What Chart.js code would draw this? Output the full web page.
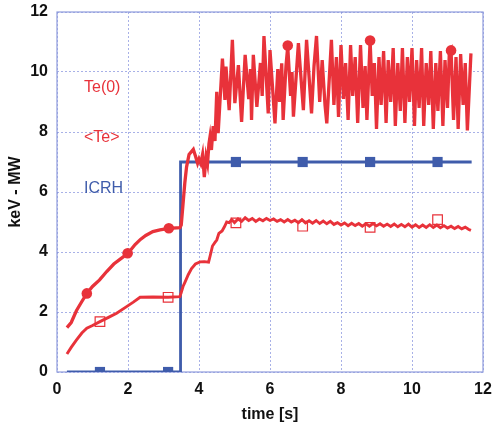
<!DOCTYPE html>
<html>
<head>
<meta charset="utf-8">
<script src="https://cdn.jsdelivr.net/npm/chart.js@4.4.1/dist/chart.umd.min.js"></script>
<style>
  html, body { margin: 0; padding: 0; background: #fff; }
  #wrap { width: 492px; height: 427px; position: relative; }
</style>
</head>
<body>
<div id="wrap"><canvas id="c"></canvas></div>
<script>
// ---------- data ----------
const seriesLabels = ['Te(0)', '<Te>', 'ICRH'];
const xTicks = [0, 2, 4, 6, 8, 10, 12];
const yTicks = [0, 2, 4, 6, 8, 10, 12];

const te0Time = [0.28,0.40,0.55,0.70,0.84,1.00,1.20,1.40,1.60,1.80,2.00,2.20,2.35,2.50,2.70,2.90,3.15,3.46,
  3.50,3.55,3.60,3.65,3.72,3.84,3.90,3.96,4.00,4.05,4.10,4.15,4.20,4.24,4.28,4.31,4.35,4.40,4.45,4.50,4.54,
  4.66,4.73,4.76,4.85,4.94,5.01,5.11,5.20,5.30,5.40,5.45,5.48,5.53,5.63,5.73,5.78,5.83,5.95,6.00,6.14,6.22,
  6.27,6.33,6.37,6.45,6.50,6.58,6.62,6.66,6.80,6.94,7.03,7.17,7.24,7.31,7.40,7.47,7.55,7.60,7.73,7.80,7.87,
  7.93,8.00,8.07,8.13,8.20,8.27,8.33,8.40,8.47,8.55,8.62,8.68,8.73,8.82,8.88,8.94,9.00,9.07,9.13,9.20,9.27,
  9.33,9.40,9.47,9.53,9.60,9.67,9.73,9.80,9.87,9.93,10.00,10.07,10.13,10.20,10.27,10.33,10.40,10.47,10.53,
  10.60,10.67,10.73,10.80,10.87,10.93,11.00,11.05,11.10,11.17,11.24,11.30,11.37,11.44,11.50,11.56,11.66];
const te0Val = [1.48,1.65,2.05,2.35,2.62,2.85,3.07,3.35,3.60,3.78,3.96,4.25,4.42,4.55,4.68,4.74,4.79,4.81,
  4.90,5.60,6.30,6.84,7.25,7.42,7.20,6.96,7.10,6.95,7.25,6.50,7.18,6.95,7.60,7.84,7.40,8.20,7.70,9.34,7.96,
  10.45,9.07,10.18,8.73,11.07,8.96,10.23,8.34,10.57,9.10,10.10,8.40,10.57,8.84,10.30,9.20,11.20,8.62,10.73,8.29,10.10,
  9.00,10.29,8.40,10.20,10.85,9.20,10.00,8.51,10.96,8.73,11.07,8.62,10.20,11.20,9.00,10.40,8.90,8.29,11.07,8.90,10.50,
  8.50,10.90,9.10,10.30,8.40,10.90,9.20,10.50,8.30,10.90,8.80,10.20,8.40,11.05,9.20,10.30,8.10,10.50,8.90,10.70,8.30,
  10.40,9.00,10.80,8.20,10.30,8.70,10.80,8.30,10.50,9.00,10.80,8.20,10.40,8.80,10.80,8.20,10.30,8.90,10.70,
  8.10,10.30,8.70,10.70,8.20,10.40,8.80,10.60,10.72,8.40,10.50,8.10,10.60,8.90,10.30,8.05,10.62];

const teAvgTime = [0.28,0.40,0.55,0.70,0.84,1.00,1.21,1.45,1.68,1.96,2.15,2.34,2.70,3.13,3.46,
  3.50,3.55,3.60,3.70,3.79,3.90,4.03,4.15,4.27,4.32,4.38,4.45,4.50,4.56,4.65,4.72,4.78,4.85,4.92,
  5.00,5.10,5.20,5.30,5.40,5.50,5.60,5.70,5.80,5.90,6.00,6.10,6.20,6.30,6.40,6.50,6.60,6.70,6.80,6.90,
  7.00,7.10,7.20,7.30,7.40,7.50,7.60,7.70,7.80,7.90,8.00,8.10,8.20,8.30,8.40,8.50,8.60,8.70,8.80,8.90,
  9.00,9.10,9.20,9.30,9.40,9.50,9.60,9.70,9.80,9.90,10.00,10.10,10.20,10.30,10.40,10.50,10.60,10.70,10.80,10.90,
  11.00,11.10,11.20,11.30,11.40,11.50,11.60,11.66];
const teAvgVal = [0.60,0.82,1.07,1.30,1.46,1.55,1.68,1.82,1.96,2.18,2.33,2.49,2.50,2.49,2.51,
  2.65,2.85,2.98,3.25,3.45,3.60,3.67,3.68,3.66,3.90,4.20,4.32,4.40,4.62,4.70,4.85,5.00,4.98,5.08,
  4.98,5.10,5.02,5.14,5.05,5.12,5.02,5.10,5.04,5.12,5.05,5.10,5.02,5.08,5.00,5.08,5.00,5.06,4.98,5.08,
  4.97,5.04,4.96,5.05,4.95,5.03,4.94,5.02,4.92,4.98,4.90,4.97,4.88,4.96,4.88,4.95,4.86,4.94,4.86,4.95,
  4.87,4.94,4.86,4.93,4.85,4.93,4.84,4.92,4.84,4.93,4.83,4.91,4.82,4.90,4.82,4.91,4.82,4.90,4.81,4.88,
  4.80,4.86,4.78,4.85,4.77,4.83,4.75,4.72];

const icrhTime = [0.28, 3.48, 3.48, 11.68];
const icrhVal  = [0, 0, 7, 7];

const te0MarkTime = [0.84, 1.99, 3.15, 6.50, 8.82, 11.10];
const te0MarkVal  = [2.62, 3.96, 4.79, 10.88, 11.05, 10.72];
const teAvgMarkTime = [1.21, 3.13, 5.04, 6.92, 8.82, 10.72];
const teAvgMarkVal  = [1.68, 2.49, 4.97, 4.86, 4.82, 5.08];
const icrhMarkTime = [1.21, 3.13, 5.04, 6.92, 8.82, 10.72];
const icrhMarkVal  = [0, 0, 7, 7, 7, 7];

// ---------- styling ----------
const RED = '#e8323a';
const BLUE = '#3f5cab';
const GRID = 'rgba(110,125,215,0.6)';
const BORDER = '#8f9cdc';
const FONT = "'Liberation Sans', Arial, Helvetica, sans-serif";

const pts = (t, v) => t.map((x, i) => ({ x: x, y: v[i] }));

const lineDs = (label, data, color, w) => ({
  label, data, borderColor: color, backgroundColor: color, borderWidth: w,
  pointRadius: 0, tension: 0, fill: false, showLine: true
});
const markDs = (label, data, style, radius, fillColor, color, bw) => ({
  label, data, showLine: false, pointStyle: style, pointRadius: radius,
  pointBackgroundColor: fillColor, pointBorderColor: color, pointBorderWidth: bw
});

const frame = {
  id: 'frame',
  beforeDatasetsDraw(chart) {
    const a = chart.chartArea, ctx = chart.ctx;
    ctx.save();
    ctx.strokeStyle = BORDER;
    ctx.lineWidth = 1.2;
    ctx.strokeRect(a.left, a.top, a.right - a.left, a.bottom - a.top);
    ctx.restore();
  }
};

const labelPlugin = {
  id: 'seriesText',
  afterDatasetsDraw(chart) {
    const sx = chart.scales.x, sy = chart.scales.y, ctx = chart.ctx;
    const anchorsY = [9.47, 7.8, 6.13];
    const colors = [RED, RED, BLUE];
    ctx.save();
    ctx.font = "16px " + FONT;
    ctx.textAlign = 'left';
    ctx.textBaseline = 'middle';
    seriesLabels.forEach((s, i) => {
      ctx.fillStyle = colors[i];
      ctx.fillText(s, sx.getPixelForValue(0.76), sy.getPixelForValue(anchorsY[i]));
    });
    ctx.restore();
  }
};

new Chart(document.getElementById('c'), {
  type: 'scatter',
  data: {
    datasets: [
      markDs('Te(0) pts', pts(te0MarkTime, te0MarkVal), 'circle', 5.3, RED, RED, 0),
      markDs('<Te> pts', pts(teAvgMarkTime, teAvgMarkVal), 'rect', 6.8, 'rgba(0,0,0,0)', RED, 1.2),
      lineDs(seriesLabels[0], pts(te0Time, te0Val), RED, 3.3),
      lineDs(seriesLabels[1], pts(teAvgTime, teAvgVal), RED, 2.9),
      markDs('ICRH pts', pts(icrhMarkTime, icrhMarkVal), 'rect', 7.2, BLUE, BLUE, 0),
      lineDs(seriesLabels[2], pts(icrhTime, icrhVal), BLUE, 2.8)
    ]
  },
  options: {
    responsive: true,
    maintainAspectRatio: false,
    animation: false,
    events: [],
    layout: { padding: { top: 12, right: 9, left: 0, bottom: 0 } },
    plugins: { legend: { display: false }, tooltip: { enabled: false }, title: { display: false } },
    scales: {
      x: {
        type: 'linear', min: 0, max: 12,
        afterBuildTicks: s => { s.ticks = xTicks.map(v => ({ value: v })); },
        afterFit: s => { s.height = 55; s.paddingLeft = 0; s.paddingRight = 0; },
        grid: { color: GRID, lineWidth: 1, drawTicks: false },
        border: { display: false, dash: [2, 2] },
        ticks: { color: '#111', padding: 8, font: { family: FONT, size: 16, weight: 'bold' }, maxRotation: 0, autoSkip: false },
        title: { display: true, text: 'time [s]', color: '#111', font: { family: FONT, size: 16, weight: 'bold' }, padding: { top: 0, bottom: 3 } }
      },
      y: {
        type: 'linear', min: 0, max: 12,
        afterBuildTicks: s => { s.ticks = yTicks.map(v => ({ value: v })); },
        afterFit: s => { s.width = 57; s.paddingTop = 0; s.paddingBottom = 0; },
        grid: { color: GRID, lineWidth: 1, drawTicks: false },
        border: { display: false, dash: [2, 2] },
        ticks: { color: '#111', padding: 9, font: { family: FONT, size: 16, weight: 'bold' }, autoSkip: false },
        title: { display: true, text: 'keV - MW', color: '#111', font: { family: FONT, size: 16, weight: 'bold' }, padding: { top: 6, bottom: 0 } }
      }
    }
  },
  plugins: [frame, labelPlugin]
});
</script>
</body>
</html>
